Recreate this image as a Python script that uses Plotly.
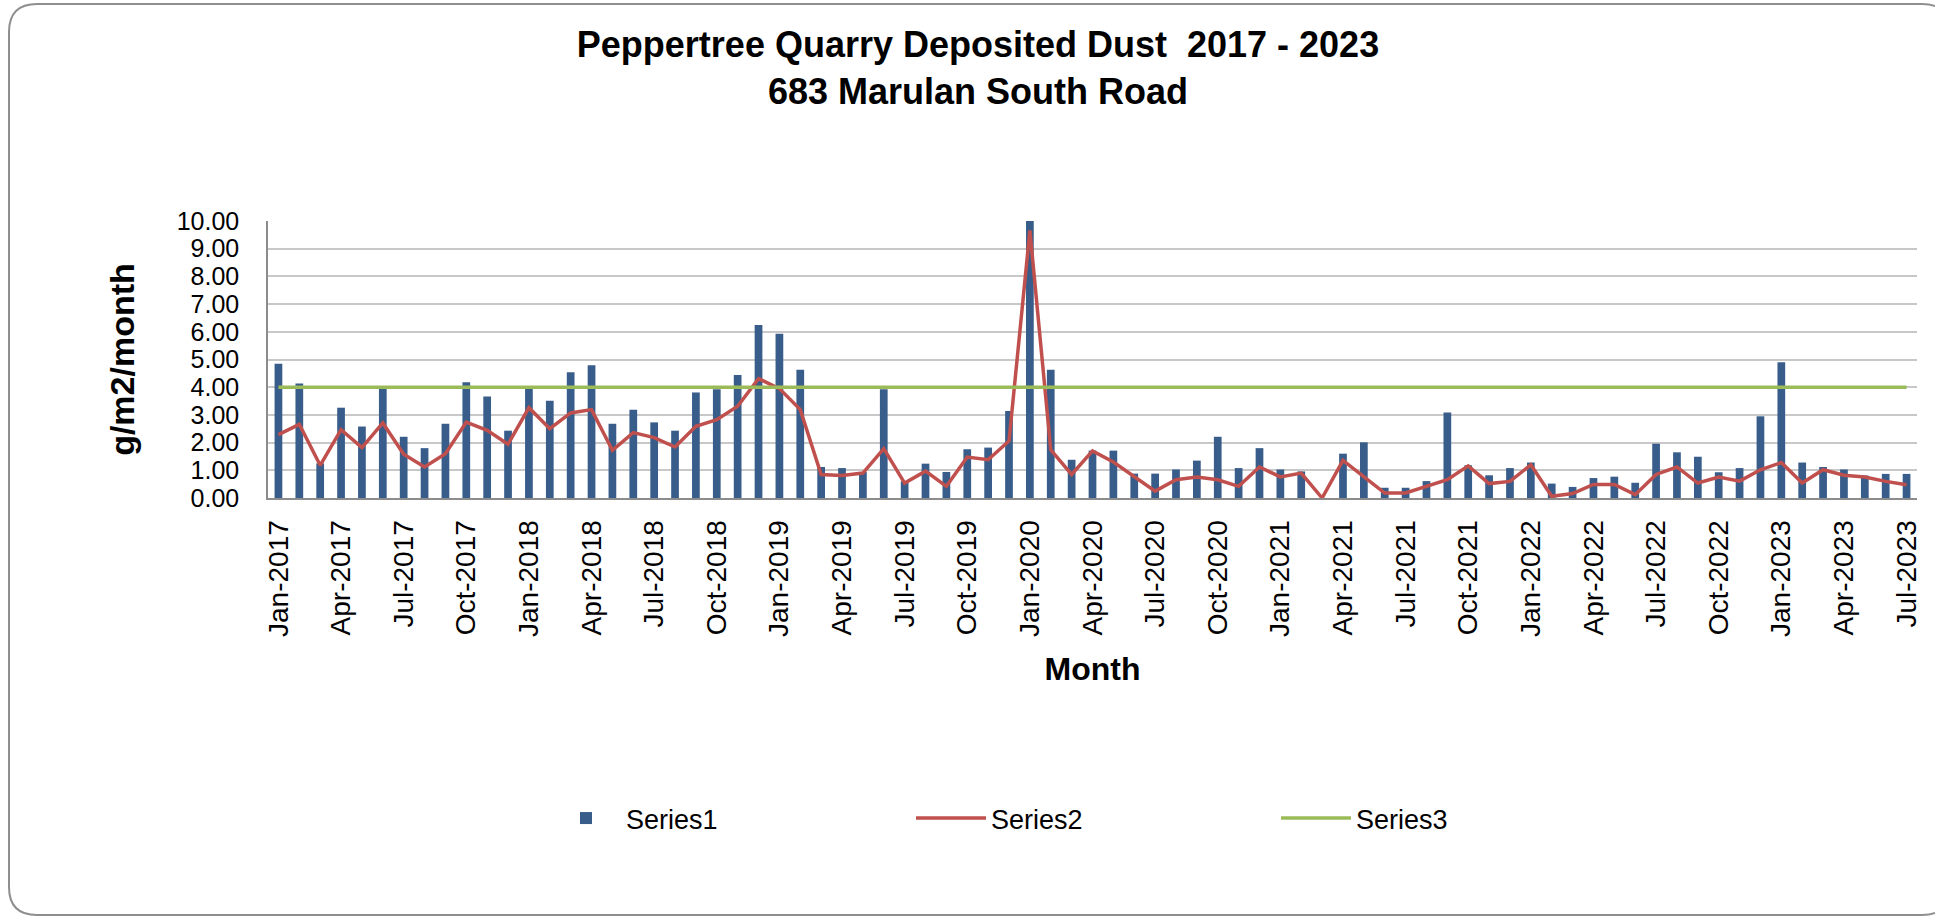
import pandas as pd
import plotly.graph_objects as go

# ---- data ----
months = [d.strftime("%b-%Y") for d in pd.date_range("2017-01-01", "2023-07-01", freq="MS")]

series1 = [
    4.85, 4.13, 1.25, 3.26, 2.58, 3.98, 2.21, 1.80, 2.68, 4.18, 3.66, 2.43,   # 2017
    3.98, 3.51, 4.54, 4.79, 2.68, 3.19, 2.73, 2.43, 3.81, 3.93, 4.44, 6.25,   # 2018
    5.93, 4.63, 1.12, 1.08, 0.94, 3.93, 0.60, 1.24, 0.94, 1.76, 1.82, 3.14,   # 2019
    10.00, 4.63, 1.38, 1.71, 1.71, 0.88, 0.88, 1.03, 1.35, 2.21, 1.08, 1.80,  # 2020
    1.03, 0.96, 0.00, 1.60, 2.01, 0.37, 0.37, 0.61, 3.09, 1.18, 0.82, 1.08,   # 2021
    1.28, 0.52, 0.40, 0.72, 0.77, 0.55, 1.96, 1.65, 1.49, 0.93, 1.08, 2.95,   # 2022
    4.90, 1.28, 1.12, 1.03, 0.81, 0.87, 0.87,                                 # 2023
]

series2 = [
    2.29, 2.66, 1.18, 2.47, 1.82, 2.71, 1.58, 1.12, 1.60, 2.74, 2.44, 1.94,
    3.26, 2.50, 3.07, 3.19, 1.72, 2.36, 2.18, 1.84, 2.59, 2.83, 3.31, 4.31,
    3.95, 3.19, 0.85, 0.81, 0.90, 1.78, 0.54, 0.97, 0.42, 1.48, 1.38, 2.06,
    9.66, 1.74, 0.85, 1.70, 1.30, 0.76, 0.25, 0.66, 0.76, 0.66, 0.42, 1.12,
    0.76, 0.90, 0.00, 1.36, 0.76, 0.18, 0.18, 0.42, 0.66, 1.16, 0.52, 0.60,
    1.20, 0.06, 0.16, 0.49, 0.49, 0.12, 0.85, 1.12, 0.54, 0.76, 0.61, 1.02,
    1.28, 0.54, 1.02, 0.82, 0.76, 0.60, 0.48,
]

series3 = [
    4.0, 4.0, 4.0, 4.0, 4.0, 4.0, 4.0, 4.0, 4.0, 4.0, 4.0, 4.0,
    4.0, 4.0, 4.0, 4.0, 4.0, 4.0, 4.0, 4.0, 4.0, 4.0, 4.0, 4.0,
    4.0, 4.0, 4.0, 4.0, 4.0, 4.0, 4.0, 4.0, 4.0, 4.0, 4.0, 4.0,
    4.0, 4.0, 4.0, 4.0, 4.0, 4.0, 4.0, 4.0, 4.0, 4.0, 4.0, 4.0,
    4.0, 4.0, 4.0, 4.0, 4.0, 4.0, 4.0, 4.0, 4.0, 4.0, 4.0, 4.0,
    4.0, 4.0, 4.0, 4.0, 4.0, 4.0, 4.0, 4.0, 4.0, 4.0, 4.0, 4.0,
    4.0, 4.0, 4.0, 4.0, 4.0, 4.0, 4.0,
]

x_tick_labels = months[::3]
y_tick_values = [0, 1, 2, 3, 4, 5, 6, 7, 8, 9, 10]

# ---- layout geometry (pixels) ----
W, H = 1935, 917
L, R, T, B = 268, 1917, 221, 498

def px(x):
    return (x - L) / (R - L)

def py(y):
    return (B - y) / (B - T)

FONT = "Liberation Sans, Arial, sans-serif"

fig = go.Figure()
fig.add_trace(go.Bar(x=months, y=series1, name="Series1",
                     marker=dict(color="#385D8A", line=dict(width=0))))
fig.add_trace(go.Scatter(x=months, y=series2, name="Series2", mode="lines",
                         line=dict(color="#C0504D", width=3.5)))
fig.add_trace(go.Scatter(x=months, y=series3, name="Series3", mode="lines",
                         line=dict(color="#9BBB59", width=3.5)))

# rounded outer border
bl, bt, br, bb, rad = 9, 4, 1950, 915, 28
path = (
    f"M {px(bl+rad)},{py(bt)} L {px(br-rad)},{py(bt)} "
    f"Q {px(br)},{py(bt)} {px(br)},{py(bt+rad)} "
    f"L {px(br)},{py(bb-rad)} Q {px(br)},{py(bb)} {px(br-rad)},{py(bb)} "
    f"L {px(bl+rad)},{py(bb)} Q {px(bl)},{py(bb)} {px(bl)},{py(bb-rad)} "
    f"L {px(bl)},{py(bt+rad)} Q {px(bl)},{py(bt)} {px(bl+rad)},{py(bt)} Z"
)

fig.update_layout(
    width=W, height=H,
    margin=dict(l=L, r=W - R, t=T, b=H - B, pad=0),
    paper_bgcolor="white", plot_bgcolor="white",
    font=dict(family=FONT, color="black"),
    bargap=0.63,
    title=dict(
        text="<b>Peppertree Quarry Deposited Dust  2017 - 2023<br>683 Marulan South Road</b>",
        font=dict(size=36, family=FONT, color="black"),
        x=px(978), xref="paper", xanchor="center",
        y=1 - 57 / H, yref="container", yanchor="top",
    ),
    shapes=[dict(type="path", path=path, xref="paper", yref="paper",
                 line=dict(color="#8E8E8E", width=2), layer="below")],
    legend=dict(
        orientation="h", x=px(546), y=py(794), xanchor="left", yanchor="top",
        font=dict(size=27, family=FONT, color="black"),
        itemwidth=70, entrywidth=280, entrywidthmode="pixels",
        bgcolor="rgba(0,0,0,0)", traceorder="normal",
    ),
    showlegend=True,
)

fig.update_xaxes(
    type="category", categoryorder="array", categoryarray=months,
    range=[-0.5, len(months) - 0.5],
    tickmode="array", tickvals=x_tick_labels, ticktext=x_tick_labels,
    tickangle=-90, tickfont=dict(size=28, family=FONT, color="black"),
    ticklabelstandoff=9, ticks="",
    showgrid=False, showline=True, linecolor="#8C8C8C", linewidth=2,
    title=dict(text="<b>Month</b>", font=dict(size=32, family=FONT, color="black"), standoff=22),
)
fig.update_yaxes(
    range=[0, 10], tickmode="array", tickvals=y_tick_values,
    tickformat=".2f", tickfont=dict(size=25, family=FONT, color="black"),
    ticklabelstandoff=22, ticks="",
    showgrid=True, gridcolor="#C8C8C8", gridwidth=1.5,
    showline=True, linecolor="#8C8C8C", linewidth=1.5,
    zeroline=False,
    title=dict(text="<b>g/m2/month</b>", font=dict(size=34, family=FONT, color="black"), standoff=32),
)

fig.write_html("out.html", config={"displayModeBar": False},
               post_script="document.body.style.margin='0px';")
